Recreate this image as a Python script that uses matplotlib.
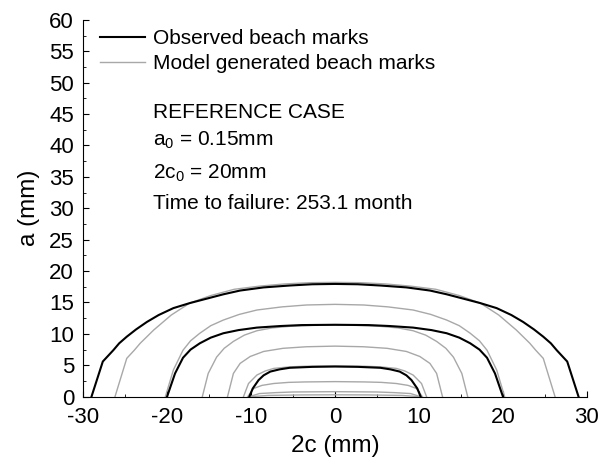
import numpy as np
import matplotlib
matplotlib.use('Agg')
import matplotlib.pyplot as plt
from matplotlib.ticker import MultipleLocator

plt.rcParams['font.family'] = ['Liberation Sans', 'DejaVu Sans']
plt.rcParams['mathtext.fontset'] = 'custom'
plt.rcParams['mathtext.rm'] = 'Liberation Sans'
plt.rcParams['mathtext.it'] = 'Liberation Sans'
plt.rcParams['axes.unicode_minus'] = False

# observed beach marks (right half of each front, x = c in mm, y = a in mm)
obs_outer_x = [29.0, 27.65, 26.4, 25.7, 24.8, 23.7, 22.4, 21.0, 19.25, 17.3, 15.3, 13.3, 11.3, 8.5, 5.4, 2.7, 0.0]
obs_outer_y = [0.0, 5.6, 7.4, 8.5, 9.55, 10.7, 11.9, 13.0, 14.1, 14.9, 15.6, 16.3, 16.9, 17.4, 17.7, 17.9, 17.95]
obs_mid_x = [20.0, 19.05, 18.1, 17.2, 16.1, 14.8, 13.3, 11.5, 9.3, 6.5, 4.0, 0.0]
obs_mid_y = [0.0, 3.7, 6.2, 7.5, 8.5, 9.4, 10.1, 10.6, 11.0, 11.25, 11.4, 11.45]
obs_in_x = [10.2, 9.8, 9.1, 8.5, 7.7, 6.6, 5.4, 2.7, 0.0]
obs_in_y = [0.0, 1.3, 2.65, 3.4, 4.0, 4.35, 4.6, 4.75, 4.8]

# model generated beach marks
m1_x = [26.2, 24.8, 23.9, 23.2, 21.6, 19.5, 17.3, 14.8, 12.0, 9.0, 6.0, 3.0, 0.0]
m1_y = [0.0, 6.1, 7.4, 8.5, 10.6, 13.0, 14.9, 16.1, 17.1, 17.6, 17.95, 18.15, 18.2]
m2_x = [20.2, 19.25, 18.1, 17.2, 16.1, 14.8, 13.3, 11.4, 9.3, 6.3, 3.4, 0.0]
m2_y = [0.0, 4.25, 7.4, 8.9, 10.1, 11.3, 12.2, 13.1, 13.8, 14.3, 14.6, 14.7]
m3_x = [15.8, 15.1, 14.1, 13.2, 12.1, 10.8, 9.3, 7.5, 5.4, 2.7, 0.0]
m3_y = [0.0, 3.7, 6.3, 7.7, 8.8, 9.8, 10.5, 10.95, 11.2, 11.35, 11.4]
m4_x = [12.8, 12.1, 11.3, 10.1, 8.5, 6.2, 3.4, 0.0]
m4_y = [0.0, 3.7, 5.3, 6.4, 7.2, 7.7, 7.95, 8.05]
m5_x = [10.9, 10.3, 9.3, 8.3, 7.3, 5.4, 3.5, 0.0]
m5_y = [0.0, 2.1, 3.45, 4.1, 4.5, 4.75, 4.85, 4.9]
m6_x = [10.4, 9.7, 8.7, 7.3, 5.5, 3.5, 0.0]
m6_y = [0.0, 1.3, 1.8, 2.1, 2.28, 2.35, 2.4]
m7_x = [10.2, 9.0, 7.0, 5.0, 0.0]
m7_y = [0.0, 0.5, 0.65, 0.75, 0.8]
m8_x = [10.1, 8.0, 4.0, 0.0]
m8_y = [0.0, 0.2, 0.28, 0.3]

observed = [(obs_outer_x, obs_outer_y), (obs_mid_x, obs_mid_y), (obs_in_x, obs_in_y)]
model = [(m1_x, m1_y), (m2_x, m2_y), (m3_x, m3_y), (m4_x, m4_y),
         (m5_x, m5_y), (m6_x, m6_y), (m7_x, m7_y), (m8_x, m8_y)]


def full_front(xs, ys):
    # mirror the half profile to get the whole crack front
    xs = np.array(xs)
    ys = np.array(ys)
    x = np.concatenate([-xs, xs[::-1]])
    y = np.concatenate([ys, ys[::-1]])
    return x, y


fig = plt.figure(figsize=(6.02, 4.61), dpi=100)
ax = fig.add_axes([0.138, 0.1395, 0.837, 0.8175])

for i, (xs, ys) in enumerate(model):
    x, y = full_front(xs, ys)
    ax.plot(x, y, color='#a8a8a8', lw=1.0,
            label='Model generated beach marks' if i == 0 else None, zorder=2)
for i, (xs, ys) in enumerate(observed):
    x, y = full_front(xs, ys)
    ax.plot(x, y, color='black', lw=1.5,
            label='Observed beach marks' if i == 0 else None, zorder=3)

ax.set_xlim(-30, 30)
ax.set_ylim(0, 60)
ax.spines['top'].set_visible(False)
ax.spines['right'].set_visible(False)
ax.xaxis.set_major_locator(MultipleLocator(10))
ax.xaxis.set_minor_locator(MultipleLocator(5))
ax.yaxis.set_major_locator(MultipleLocator(5))
ax.yaxis.set_minor_locator(MultipleLocator(2.5))
ax.tick_params(which='both', direction='in', labelsize=16)
ax.tick_params(which='major', length=4)
ax.tick_params(which='minor', length=2.5)
ax.tick_params(axis='x', pad=7.5)
ax.tick_params(axis='y', pad=6.5)
ax.set_xlabel('2c (mm)', fontsize=17.5, labelpad=5)
ax.set_ylabel('a (mm)', fontsize=17.5, labelpad=6.5)

handles, labels = ax.get_legend_handles_labels()
order = [1, 0]
ax.legend([handles[k] for k in order], [labels[k] for k in order],
          loc='upper left', bbox_to_anchor=(0.034, 0.975), frameon=False,
          fontsize=15, handlelength=2.16, handletextpad=0.37, labelspacing=0.3,
          borderpad=0, borderaxespad=0)

ax.text(-21.7, 45.2, 'REFERENCE CASE', fontsize=15, va='center')
ax.text(-21.7, 40.8, 'a$_0$ = 0.15mm', fontsize=15, va='center')
ax.text(-21.7, 35.6, '2c$_0$ = 20mm', fontsize=15, va='center')
ax.text(-21.7, 30.7, 'Time to failure: 253.1 month', fontsize=15, va='center')

fig.savefig('out.png', dpi=100)
